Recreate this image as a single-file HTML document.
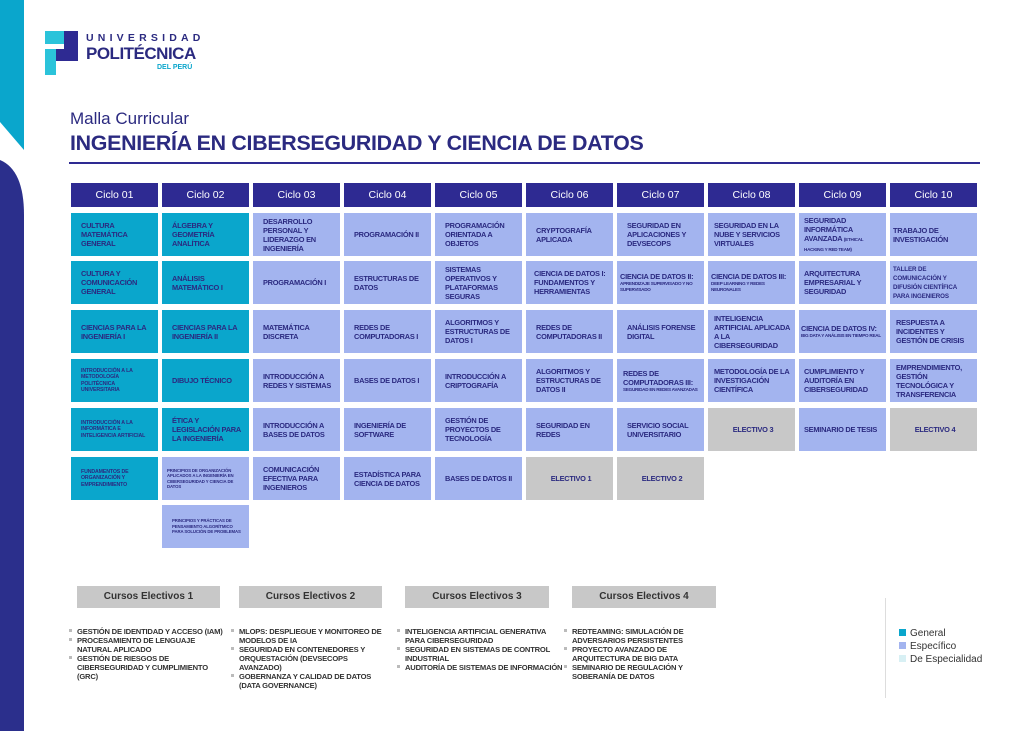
<!DOCTYPE html>
<html><head><meta charset="utf-8"><style>
*{margin:0;padding:0;box-sizing:border-box}
body{width:1024px;height:731px;background:#fff;position:relative;overflow:hidden;font-family:"Liberation Sans",sans-serif;color:#2b2a80}
.a{position:absolute}
.h{position:absolute;top:183px;width:87px;height:24px;background:#2e2a92;color:#fff;font-size:10.5px;text-align:center;line-height:24px}
.c{position:absolute;width:87px;height:43px;display:flex;align-items:center;padding:0 7px 0 10px;font-weight:bold;font-size:7.4px;line-height:9px;color:#2b2a80;text-transform:uppercase;letter-spacing:-0.25px}
.g{background:#0aa6cc}
.s{background:#a3b4ef}
.e{background:#c8c8c8;justify-content:center}
.sm{font-size:5.2px;line-height:6.3px;letter-spacing:-0.1px}
.xs{font-size:4.3px;line-height:5.5px;letter-spacing:-0.1px}
.eh{position:absolute;top:586px;height:22px;background:#c8c8c8;font-size:10px;font-weight:bold;text-align:center;line-height:22px;color:#333}
.ul{position:absolute;top:627px;font-size:7.6px;line-height:9px;font-weight:bold;color:#333;list-style:none;letter-spacing:-0.2px}
.ul li{position:relative;padding-left:0}
.ul li::before{content:"";position:absolute;left:-8px;top:2px;width:3px;height:3px;background:#bbb}
</style></head><body>
<svg class="a" style="left:0;top:0" width="80" height="731">
<polygon points="0,0 24,0 24,150 0,122" fill="#0aa6cc"/>
<path d="M0,160 Q24,170 24,215 L24,731 L0,731 Z" fill="#2b2f8c"/>
</svg>
<svg class="a" style="left:44px;top:30px" width="36" height="46">
<rect x="1" y="1" width="21" height="13" fill="#2bc3da"/>
<rect x="20" y="1" width="14" height="30" fill="#2e2a92"/>
<rect x="12" y="19" width="22" height="12" fill="#2e2a92"/>
<rect x="1" y="19" width="11" height="26" fill="#2bc3da"/>
</svg>
<div class="a" style="left:86px;top:32px;font-size:10.5px;font-weight:bold;letter-spacing:4.2px">UNIVERSIDAD</div>
<div class="a" style="left:86px;top:44px;font-size:17px;font-weight:bold;letter-spacing:-0.5px">POLITÉCNICA</div>
<div class="a" style="left:157px;top:64px;font-size:7px;font-weight:bold;color:#0aa6cc">DEL PERÚ</div>
<div class="a" style="left:70px;top:109px;font-size:17px">Malla Curricular</div>
<div class="a" style="left:70px;top:131px;font-size:21.4px;font-weight:bold;letter-spacing:-0.3px">INGENIERÍA EN CIBERSEGURIDAD Y CIENCIA DE DATOS</div>
<div class="a" style="left:69px;top:162px;width:911px;height:2px;background:#2e2a92"></div>

<div class="h" style="left:71px">Ciclo 01</div><div class="h" style="left:162px">Ciclo 02</div><div class="h" style="left:253px">Ciclo 03</div><div class="h" style="left:344px">Ciclo 04</div><div class="h" style="left:435px">Ciclo 05</div><div class="h" style="left:526px">Ciclo 06</div><div class="h" style="left:617px">Ciclo 07</div><div class="h" style="left:708px">Ciclo 08</div><div class="h" style="left:799px">Ciclo 09</div><div class="h" style="left:890px">Ciclo 10</div>

<div class="c g" style="left:71px;top:213px">Cultura matemática general</div>
<div class="c g" style="left:71px;top:261px">Cultura y comunicación general</div>
<div class="c g" style="left:71px;top:310px">Ciencias para la ingeniería I</div>
<div class="c g sm" style="left:71px;top:359px">Introducción a la metodología politécnica universitaria</div>
<div class="c g sm" style="left:71px;top:408px">Introducción a la informática e inteligencia artificial</div>
<div class="c g sm" style="left:71px;top:457px">Fundamentos de organización y emprendimiento</div>

<div class="c g" style="left:162px;top:213px">Álgebra y geometría analítica</div>
<div class="c g" style="left:162px;top:261px">Análisis matemático I</div>
<div class="c g" style="left:162px;top:310px">Ciencias para la ingeniería II</div>
<div class="c g" style="left:162px;top:359px">Dibujo técnico</div>
<div class="c g" style="left:162px;top:408px">Ética y legislación para la ingeniería</div>
<div class="c s xs" style="left:162px;top:457px;padding:0 5px">Principios de organización aplicados a la ingeniería en ciberseguridad y ciencia de datos</div>
<div class="c s xs" style="left:162px;top:505px">Principios y prácticas de pensamiento algorítmico para solución de problemas</div>

<div class="c s" style="left:253px;top:213px">Desarrollo personal y liderazgo en ingeniería</div>
<div class="c s" style="left:253px;top:261px">Programación I</div>
<div class="c s" style="left:253px;top:310px">Matemática discreta</div>
<div class="c s" style="left:253px;top:359px">Introducción a redes y sistemas</div>
<div class="c s" style="left:253px;top:408px">Introducción a bases de datos</div>
<div class="c s" style="left:253px;top:457px">Comunicación efectiva para ingenieros</div>

<div class="c s" style="left:344px;top:213px">Programación II</div>
<div class="c s" style="left:344px;top:261px">Estructuras de datos</div>
<div class="c s" style="left:344px;top:310px">Redes de computadoras I</div>
<div class="c s" style="left:344px;top:359px">Bases de datos I</div>
<div class="c s" style="left:344px;top:408px">Ingeniería de software</div>
<div class="c s" style="left:344px;top:457px">Estadística para ciencia de datos</div>

<div class="c s" style="left:435px;top:213px">Programación orientada a objetos</div>
<div class="c s" style="left:435px;top:261px">Sistemas operativos y plataformas seguras</div>
<div class="c s" style="left:435px;top:310px">Algoritmos y estructuras de datos I</div>
<div class="c s" style="left:435px;top:359px">Introducción a criptografía</div>
<div class="c s" style="left:435px;top:408px">Gestión de proyectos de tecnología</div>
<div class="c s" style="left:435px;top:457px">Bases de datos II</div>

<div class="c s" style="left:526px;top:213px">Cryptografía aplicada</div>
<div class="c s" style="left:526px;top:261px;padding:0 4px 0 8px">Ciencia de datos I: fundamentos y herramientas</div>
<div class="c s" style="left:526px;top:310px">Redes de computadoras II</div>
<div class="c s" style="left:526px;top:359px">Algoritmos y estructuras de datos II</div>
<div class="c s" style="left:526px;top:408px">Seguridad en redes</div>
<div class="c e" style="left:526px;top:457px">Electivo 1</div>

<div class="c s" style="left:617px;top:213px">Seguridad en aplicaciones y devsecops</div>
<div class="c s" style="left:617px;top:261px;padding:0 3px"><div>Ciencia de datos II:<br><span style="font-size:4.6px;line-height:6px;display:block">Aprendizaje supervisado y no supervisado</span></div></div>
<div class="c s" style="left:617px;top:310px">Análisis forense digital</div>
<div class="c s" style="left:617px;top:359px;padding:0 4px 0 6px"><div>Redes de computadoras III:<span style="font-size:4.6px;line-height:6px;display:block">Seguridad en redes avanzadas</span></div></div>
<div class="c s" style="left:617px;top:408px">Servicio social universitario</div>
<div class="c e" style="left:617px;top:457px">Electivo 2</div>

<div class="c s" style="left:708px;top:213px;padding:0 4px 0 6px">Seguridad en la nube y servicios virtuales</div>
<div class="c s" style="left:708px;top:261px;padding:0 3px"><div>Ciencia de datos III:<span style="font-size:4.6px;line-height:6px;display:block">Deep learning y redes neuronales</span></div></div>
<div class="c s" style="left:708px;top:310px;padding:0 4px 0 6px">Inteligencia artificial aplicada a la ciberseguridad</div>
<div class="c s" style="left:708px;top:359px;padding:0 4px 0 6px">Metodología de la investigación científica</div>
<div class="c e" style="left:708px;top:408px">Electivo 3</div>

<div class="c s" style="left:799px;top:213px;padding:0 4px 0 5px"><div>Seguridad informática avanzada <span style="font-size:4.6px">(Ethical hacking y red team)</span></div></div>
<div class="c s" style="left:799px;top:261px;padding:0 4px 0 5px">Arquitectura empresarial y seguridad</div>
<div class="c s" style="left:799px;top:310px;padding:0 2px"><div>Ciencia de datos IV:<span style="font-size:4.6px;line-height:6px;display:block">Big data y análisis en tiempo real</span></div></div>
<div class="c s" style="left:799px;top:359px;padding:0 4px 0 5px">Cumplimiento y auditoría en ciberseguridad</div>
<div class="c s" style="left:799px;top:408px;padding:0 4px 0 5px">Seminario de tesis</div>

<div class="c s" style="left:890px;top:213px;padding:0 3px">Trabajo de investigación</div>
<div class="c s sm" style="left:890px;top:261px;padding:0 3px;font-size:6.2px;line-height:9px">Taller de comunicación y difusión científica para ingenieros</div>
<div class="c s" style="left:890px;top:310px;padding:0 3px 0 6px">Respuesta a incidentes y gestión de crisis</div>
<div class="c s" style="left:890px;top:359px;padding:0 3px 0 6px">Emprendimiento, gestión tecnológica y transferencia</div>
<div class="c e" style="left:890px;top:408px">Electivo 4</div>

<div class="eh" style="left:77px;width:143px">Cursos Electivos 1</div>
<div class="eh" style="left:239px;width:143px">Cursos Electivos 2</div>
<div class="eh" style="left:405px;width:144px">Cursos Electivos 3</div>
<div class="eh" style="left:572px;width:144px">Cursos Electivos 4</div>
<ul class="ul" style="left:77px;width:150px"><li>GESTIÓN DE IDENTIDAD Y ACCESO (IAM)</li><li>PROCESAMIENTO DE LENGUAJE NATURAL APLICADO</li><li>GESTIÓN DE RIESGOS DE CIBERSEGURIDAD Y CUMPLIMIENTO (GRC)</li></ul>
<ul class="ul" style="left:239px;width:150px"><li>MLOPS: DESPLIEGUE Y MONITOREO DE MODELOS DE IA</li><li>SEGURIDAD EN CONTENEDORES Y ORQUESTACIÓN (DEVSECOPS AVANZADO)</li><li>GOBERNANZA Y CALIDAD DE DATOS (DATA GOVERNANCE)</li></ul>
<ul class="ul" style="left:405px;width:160px"><li>INTELIGENCIA ARTIFICIAL GENERATIVA PARA CIBERSEGURIDAD</li><li>SEGURIDAD EN SISTEMAS DE CONTROL INDUSTRIAL</li><li>AUDITORÍA DE SISTEMAS DE INFORMACIÓN</li></ul>
<ul class="ul" style="left:572px;width:130px"><li>REDTEAMING: SIMULACIÓN DE ADVERSARIOS PERSISTENTES</li><li>PROYECTO AVANZADO DE ARQUITECTURA DE BIG DATA</li><li>SEMINARIO DE REGULACIÓN Y SOBERANÍA DE DATOS</li></ul>

<div class="a" style="left:885px;top:598px;width:1px;height:100px;background:#ddd"></div>
<div class="a" style="left:899px;top:629px;width:7px;height:7px;background:#0aa6cc"></div>
<div class="a" style="left:899px;top:642px;width:7px;height:7px;background:#a3b4ef"></div>
<div class="a" style="left:899px;top:655px;width:7px;height:7px;background:#d8f0f4"></div>
<div class="a" style="left:910px;top:627px;font-size:10px;line-height:13px;color:#333">General<br>Específico<br>De Especialidad</div>
</body></html>
